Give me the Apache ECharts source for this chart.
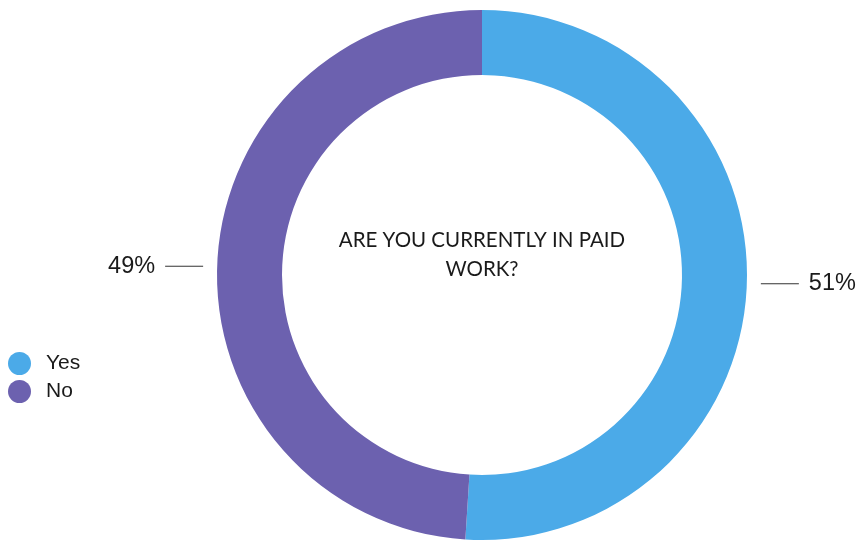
<!DOCTYPE html>
<html>
<head>
<meta charset="utf-8">
<script src="https://cdn.jsdelivr.net/npm/echarts@6/dist/echarts.min.js"></script>
<style>html,body{margin:0;padding:0;background:#fff}#c{width:864px;height:540px}</style>
</head>
<body>
<div id="c"></div>
<script>
const categories = ['Yes', 'No'];
const values = [51, 49];
const colors = ['#4BAAE8', '#6C61AF'];
const centerTitle = 'ARE YOU CURRENTLY IN PAID\nWORK?';

const data = categories.map((name, i) => ({ name, value: values[i], itemStyle: { color: colors[i] } }));
const chart = echarts.init(document.getElementById('c'), null, { renderer: 'canvas' });
chart.setOption({
  animation: false,
  legend: {
    orient: 'vertical', left: 3, top: 347,
    icon: 'circle', itemWidth: 23, itemHeight: 23, itemGap: 5,
    textStyle: { fontFamily: 'Liberation Sans', fontSize: 21, color: '#1a1a1a', padding: [0, 0, 0, 10] },
    data: categories
  },
  graphic: [{
    type: 'text', left: 482 - 170, top: 226,
    style: {
      text: centerTitle, width: 340, align: 'center',
      font: '20.5px Lato', fill: '#1a1a1a', lineHeight: 29,
      x: 170, textAlign: 'center'
    }
  }],
  series: [
    {
      type: 'pie', center: [482, 275], radius: [200, 265], startAngle: 90, clockwise: true,
      silent: true, label: { show: false }, labelLine: { show: false },
      data: data
    },
    {
      type: 'pie', center: [482, 275], radius: [278, 279], startAngle: 90, clockwise: true,
      silent: true,
      itemStyle: { color: 'rgba(0,0,0,0)' },
      label: {
        show: true, formatter: '{c}%', fontFamily: 'Liberation Sans', fontSize: 23.5,
        color: '#1a1a1a', distanceToLabelLine: 10, overflow: 'none'
      },
      labelLine: { show: true, length: 0, length2: 38, lineStyle: { color: '#333', width: 1 } },
      data: categories.map((name, i) => ({ name, value: values[i], itemStyle: { color: 'rgba(0,0,0,0)' } }))
    }
  ]
});
</script>
</body>
</html>
